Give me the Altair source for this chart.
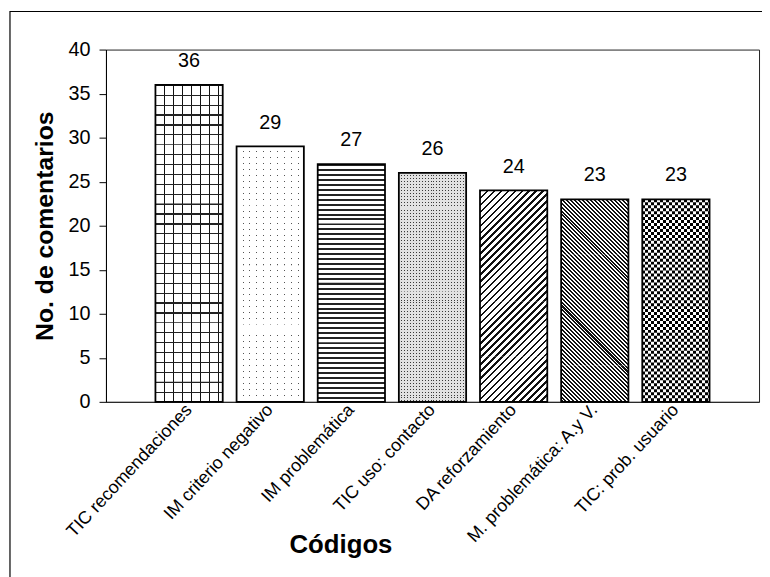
import math
import pandas as pd
import altair as alt

# ---- data ----
codes = [
    "TIC recomendaciones",
    "IM criterio negativo",
    "IM problemática",
    "TIC uso: contacto",
    "DA reforzamiento",
    "M. problemática: A.y V.",
    "TIC: prob. usuario",
]
counts = [36, 29, 27, 26, 24, 23, 23]
y_ticks = [0, 5, 10, 15, 20, 25, 30, 35, 40]

df = pd.DataFrame({"code": codes, "count": counts})

# ---- layout ----
W, H, YMAX = 660, 356, 40
STEP, BW = 82, 68
PI = (STEP - BW) / STEP
PO = 50 / STEP
CLEAR = "rgba(0,0,0,0)"
FONT = "Liberation Sans"
PX = H / YMAX  # pixels per count unit
R2 = math.sqrt(2)


def periodic_stops(n, pieces):
    stops = []
    i = 0
    while i < n:
        acc = 0.0
        for frac, color in pieces:
            a = min(1.0, (i + acc) / n)
            b = min(1.0, (i + acc + frac) / n)
            stops.append({"offset": round(a, 6), "color": color})
            stops.append({"offset": round(b, 6), "color": color})
            acc += frac
        i += 1
    return stops


def lin(x1, y1, x2, y2, stops):
    return {"gradient": "linear", "x1": x1, "y1": y1, "x2": x2, "y2": y2, "stops": stops}


def vstripes(w, period, line, lc, gc=CLEAR):
    f = line / period
    return lin(0, 0, 1, 0, periodic_stops(w / period, [(f, lc), (1 - f, gc)]))


def hstripes(h, period, line, lc, gc=CLEAR):
    f = line / period
    return lin(0, 0, 0, 1, periodic_stops(h / period, [(f, lc), (1 - f, gc)]))


def diag(w, h, period, line, lc, gc, slash=True):
    k = (1 / h + 1 / w) / (1 / h ** 2 + 1 / w ** 2)
    f = line / period
    n = ((w + h) / R2) / period
    st = periodic_stops(n, [(f, lc), (1 - f, gc)])
    if slash:
        return lin(0, 0, k / h, k / w, st)
    return lin(0, 1, k / h, 1 - k / w, st)


def segments(name, count, tile=None):
    """Tiles hanging from the bar top: (height_px, step_px, offset_px); clipped at 0."""
    if tile is None:
        return pd.DataFrame({"code": [name], "top": [count], "bot": [0]})
    hpx, spx, opx = tile
    rows = []
    k = 0
    while count - (opx + k * spx) / PX > 1e-9:
        top = count - (opx + k * spx) / PX
        rows.append({"code": name, "top": top, "bot": top - hpx / PX})
        k += 1
    return pd.DataFrame(rows)


# (fill, tile) ; tile = (height_px, step_px, offset_px) or None for the whole bar
patterns = [
    [("white", None),
     (vstripes(BW, 9, 1, "#111"), None),
     (hstripes(60, 10, 1.2, "#222"), (60, 60, 0))],
    [("#555", None),
     (vstripes(BW, 7, 6, "white"), None),
     (hstripes(60, 6, 5, "white"), (60, 60, 0))],
    [("white", None),
     (hstripes(60, 5, 2, "#222"), (60, 60, 0))],
    [("#3a3a3a", None),
     (vstripes(BW, 3, 2, "#e2e2e2"), None),
     (hstripes(60, 3, 2, "#e2e2e2"), (60, 60, 0))],
    [(diag(BW, 56, 7 / R2, 1.8, "#111", "white", True), (56, 56, 0))],
    [(diag(BW, 56, 4 / R2, 1.45, "#111", "white", False), (56, 56, 0))],
    [(vstripes(BW, 6, 3, "black", "white"), None),
     (vstripes(BW, 6, 3, "white", "black"), (3, 6, 3))],
]

x_enc = alt.X(
    "code:N",
    sort=codes,
    scale=alt.Scale(paddingInner=PI, paddingOuter=PO),
    axis=alt.Axis(
        title="Códigos",
        labelAngle=-47,
        labelAlign="right",
        labelBaseline="middle",
        labelFontSize=18,
        labelFont=FONT,
        labelColor="black",
        labelOverlap=False,
        labelLimit=400,
        labelPadding=5,
        ticks=False,
        domainColor="#222",
        titleFont=FONT,
        titleFontSize=26,
        titleFontWeight="bold",
        titleColor="black",
        titleX=237,
        titleY=152,
        titleBaseline="alphabetic",
        titleAlign="center",
    ),
)

y_axis = alt.Axis(
    title="No. de comentarios",
    values=y_ticks,
    grid=False,
    tickSize=7,
    tickColor="black",
    domainColor="black",
    labelPadding=9,
    labelFontSize=20,
    labelFont=FONT,
    labelColor="black",
    titleFont=FONT,
    titleFontSize=25,
    titleFontWeight="bold",
    titleColor="black",
    titleX=-62,
    titleY=H / 2,
    titleAngle=-90,
    titleAlign="center",
    titleBaseline="middle",
)
y_scale = alt.Scale(domain=[0, YMAX], nice=False)


def yenc(field):
    return alt.Y(field, type="quantitative", scale=y_scale, axis=y_axis)


frame = alt.Chart(pd.DataFrame({"f": [0]})).mark_rect(
    filled=False, stroke="black", strokeWidth=1.2
).encode(
    x=alt.value(-97), x2=alt.value(W + 60), y=alt.value(-38.5), y2=alt.value(H + 260)
)

layers = [frame]
for name, count, pats in zip(codes, counts, patterns):
    for fill, tile in pats:
        seg = segments(name, count, tile)
        layers.append(
            alt.Chart(seg)
            .mark_bar(fill=fill, clip=True)
            .encode(x=x_enc, y=yenc("top"), y2="bot:Q")
        )

base = alt.Chart(df).encode(x=x_enc, y=yenc("count"))
outline = base.mark_bar(fillOpacity=0, stroke="black", strokeWidth=1.8)
labels = base.mark_text(
    dy=-18, baseline="alphabetic", fontSize=20, font=FONT, color="black"
).encode(text="count:Q")
layers += [outline, labels]

chart = alt.layer(*layers).properties(
    width=W,
    height=H,
    autosize=alt.AutoSizeParams(type="none"),
    padding={"left": 99, "top": 39, "right": 3, "bottom": 174},
    background="white",
).configure_view(stroke="#222", strokeWidth=1)

chart.save("out.html", embed_options={"renderer": "svg", "actions": False})
